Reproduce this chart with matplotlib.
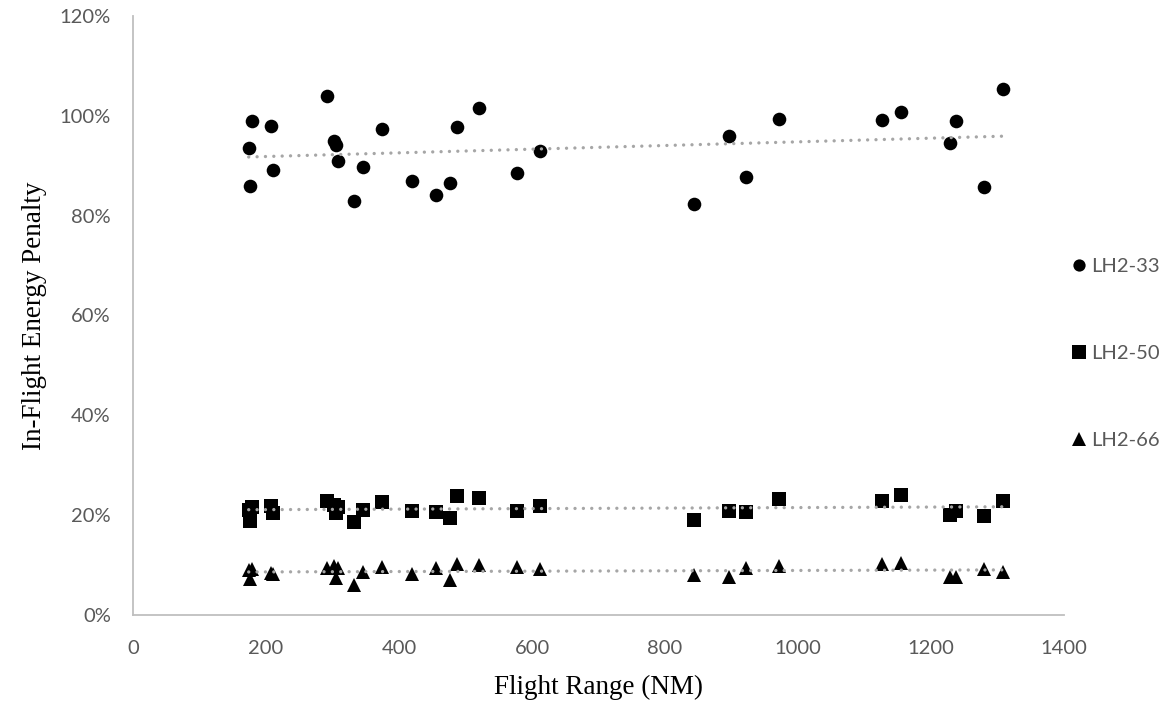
import numpy as np
import matplotlib
matplotlib.use("Agg")
import matplotlib.pyplot as plt
from matplotlib.lines import Line2D
from matplotlib.ticker import FuncFormatter, MultipleLocator

# Flight range of each route (NM)
flight_range = [174, 176, 179, 208, 210, 292, 302, 305, 309, 333, 346, 375, 419,
                455, 477, 487, 520, 578, 612, 844, 896, 922, 971, 1127, 1155,
                1229, 1237, 1279, 1308]

# In-flight energy penalty (%) per configuration
lh2_33 = [93.5, 86.0, 98.9, 97.9, 89.2, 103.9, 94.9, 94.1, 90.9, 83.0, 89.8, 97.3,
          87.0, 84.2, 86.6, 97.8, 101.5, 88.5, 93.0, 82.4, 95.9, 87.7, 99.3, 99.1,
          100.7, 94.5, 98.9, 85.7, 105.3]
lh2_50 = [21.0, 18.9, 21.7, 21.8, 20.5, 22.9, 22.1, 20.4, 21.6, 18.7, 21.0, 22.6,
          20.9, 20.6, 19.4, 23.9, 23.5, 20.8, 21.8, 19.0, 20.8, 20.7, 23.2, 22.8,
          24.0, 20.0, 20.9, 19.9, 22.9]
lh2_66 = [9.0, 7.2, 9.2, 8.4, 8.2, 9.4, 9.9, 7.4, 9.4, 6.0, 8.6, 9.7, 8.2, 9.4,
          7.0, 10.2, 10.0, 9.6, 9.2, 8.0, 7.7, 9.4, 9.8, 10.2, 10.5, 7.6, 7.6, 9.2,
          8.7]

series_names = ["LH2-33", "LH2-50", "LH2-66"]
series_values = [lh2_33, lh2_50, lh2_66]
markers = ["o", "s", "^"]
marker_sizes = [9.8, 10.5, 10.5]

tick_color = "#595959"
axis_color = "#BFBFBF"
trend_color = "#A6A6A6"

fig = plt.figure(figsize=(11.67, 7.04), dpi=100)
ax = fig.add_axes([133 / 1167, 1 - 615 / 704, (1064 - 133) / 1167, (615 - 16) / 704])

x = np.array(flight_range, dtype=float)
handles = []
for name, vals, mk, ms in zip(series_names, series_values, markers, marker_sizes):
    y = np.array(vals, dtype=float)
    ax.plot(x, y, linestyle="none", marker=mk, markersize=ms, color="black",
            markeredgewidth=0, zorder=3)
    # linear trendline across the data range
    k, b = np.polyfit(x, y, 1)
    xs = np.array([x.min(), x.max()])
    ax.plot(xs, k * xs + b, color=trend_color, linewidth=2.4,
            linestyle=(0, (0.01, 2.5)), dash_capstyle="round", zorder=4)
    handles.append(Line2D([], [], linestyle="none", marker=mk, markersize=ms * 0.9,
                          color="black", markeredgewidth=0, label=name))

ax.set_xlim(0, 1400)
ax.set_ylim(0, 120)
ax.xaxis.set_major_locator(MultipleLocator(200))
ax.yaxis.set_major_locator(MultipleLocator(20))
ax.yaxis.set_major_formatter(FuncFormatter(lambda v, p: f"{v:.0f}%"))

for side in ("top", "right"):
    ax.spines[side].set_visible(False)
for side in ("left", "bottom"):
    ax.spines[side].set_color(axis_color)
    ax.spines[side].set_linewidth(1.3)

ax.tick_params(axis="both", length=0, labelsize=14.5, labelcolor=tick_color)
ax.tick_params(axis="y", pad=16)
ax.tick_params(axis="x", pad=18)
for lbl in ax.get_xticklabels() + ax.get_yticklabels():
    lbl.set_fontfamily("Lato")

ax.set_xlabel("Flight Range (NM)", fontsize=19.5, family="Liberation Serif",
              color="black", labelpad=13)
ax.set_ylabel("In-Flight Energy Penalty", fontsize=19.5, family="Liberation Serif",
              color="black", labelpad=9)

leg = ax.legend(handles=handles, loc="center left", bbox_to_anchor=(1.0015, 0.437),
                frameon=False, handlelength=0.6, handletextpad=0.3,
                labelspacing=3.46, borderaxespad=0,
                prop={"family": "Lato", "size": 14.5})
for t in leg.get_texts():
    t.set_color(tick_color)

fig.savefig("out.png", dpi=100, facecolor="white")
